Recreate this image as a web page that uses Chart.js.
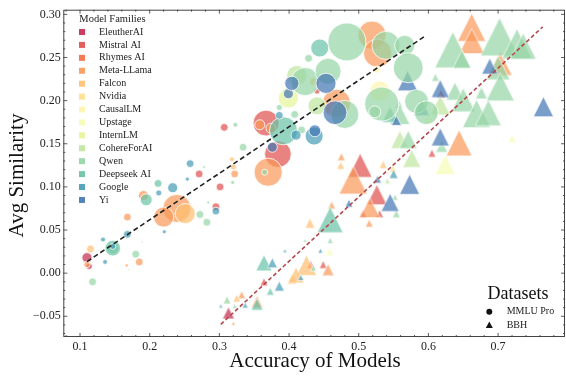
<!DOCTYPE html>
<html><head><meta charset="utf-8">
<script src="https://cdn.jsdelivr.net/npm/chart.js@4.4.1/dist/chart.umd.min.js"></script>
<style>html,body{margin:0;padding:0;background:#fff;}canvas{display:block;}</style>
</head><body>
<canvas id="c" width="566" height="376"></canvas>
<script>
// ---------------- DATA ----------------
const families = ["EleutherAI","Mistral AI","Rhymes AI","Meta-LLama","Falcon","Nvidia","CausalLM","Upstage","InternLM","CohereForAI","Qwen","Deepseek AI","Google","Yi"];
const datasetNames = ["MMLU Pro","BBH"];
const xTicks = [0.1,0.2,0.3,0.4,0.5,0.6,0.7];
const yTicks = [-0.05,0.00,0.05,0.10,0.15,0.20,0.25,0.30];

// MMLU Pro (circles): accuracy, avg similarity, model size (B params), family index
const mmluAcc = [0.110,0.113,0.115,0.118,0.110,0.133,0.136,0.147,0.147,0.147,0.168,0.168,0.180,0.185,0.167,0.170,0.189,0.195,0.191,0.213,0.212,0.233,0.258,0.254,0.278,0.271,0.301,0.239,0.220,0.251,0.221,0.272,0.282,0.284,0.295,0.295,0.318,0.320,0.322,0.319,0.370,0.365,0.384,0.307,0.323,0.334,0.367,0.358,0.374,0.386,0.408,0.392,0.410,0.418,0.436,0.376,0.399,0.399,0.386,0.411,0.404,0.423,0.456,0.453,0.444,0.428,0.483,0.519,0.527,0.539,0.566,0.571,0.526,0.435,0.440,0.440,0.468,0.466,0.480,0.437,0.533,0.523,0.530,0.583,0.597];
const mmluSim = [0.018,0.008,0.028,-0.010,0.010,0.039,0.013,0.029,0.029,0.031,0.045,0.065,0.022,0.013,0.009,0.004,0.036,0.085,0.090,0.093,0.104,0.099,0.127,0.109,0.123,0.115,0.100,0.075,0.065,0.069,0.048,0.068,0.059,0.082,0.072,0.077,0.132,0.123,0.115,0.105,0.117,0.117,0.138,0.169,0.172,0.146,0.174,0.172,0.168,0.183,0.184,0.165,0.160,0.166,0.159,0.146,0.203,0.208,0.192,0.229,0.220,0.222,0.234,0.220,0.261,0.249,0.268,0.276,0.255,0.264,0.264,0.238,0.236,0.222,0.211,0.194,0.197,0.186,0.184,0.165,0.196,0.187,0.211,0.199,0.186];
const mmluSize = [5,2,3,3,2,1.2,1.2,12,6,1.8,3,3,3,3,0.5,0.2,0.2,7,5,1.8,3,5,3,0.8,0.4,3,3,39,20,20,0.8,3,3,0.4,3,3,1.2,1.8,3,0.8,39,1.8,35,3,1.2,3,33,5,5,3,3,39,5,3,16,5,20,5,1.8,20,10,39,33,20,16,3,71,39,39,39,20,44,2.5,3,1.8,16,39,28,39,7,57,7,20,28,28];
const mmluFam = [0,0,4,10,3,12,12,11,10,12,12,3,10,3,3,9,10,11,3,12,11,12,12,12,10,1,1,3,3,4,12,10,10,10,12,1,4,4,3,10,3,10,1,1,10,10,1,3,3,12,10,11,12,10,12,13,8,13,10,9,13,10,10,13,11,10,10,3,3,10,10,10,6,4,1,9,3,13,10,13,10,10,6,10,10];

// BBH (triangles)
const bbhAcc = [0.662,0.662,0.702,0.727,0.736,0.635,0.648,0.688,0.703,0.700,0.703,0.570,0.610,0.617,0.618,0.638,0.650,0.676,0.617,0.545,0.558,0.559,0.590,0.554,0.669,0.686,0.765,0.600,0.559,0.571,0.617,0.619,0.644,0.576,0.605,0.624,0.720,0.475,0.474,0.502,0.492,0.535,0.549,0.550,0.527,0.541,0.573,0.526,0.516,0.545,0.552,0.530,0.506,0.486,0.554,0.515,0.459,0.461,0.430,0.459,0.458,0.445,0.425,0.431,0.449,0.456,0.435,0.417,0.311,0.364,0.376,0.364,0.386,0.404,0.373,0.325,0.332,0.354,0.354,0.313,0.302,0.322,0.337,0.320,0.394,0.423,0.410];
const bbhSim = [0.285,0.269,0.274,0.266,0.263,0.259,0.248,0.240,0.243,0.238,0.216,0.223,0.227,0.214,0.208,0.211,0.201,0.209,0.195,0.184,0.196,0.184,0.192,0.177,0.185,0.186,0.193,0.179,0.155,0.155,0.158,0.147,0.151,0.133,0.139,0.126,0.156,0.135,0.125,0.125,0.108,0.126,0.121,0.115,0.109,0.107,0.103,0.091,0.076,0.082,0.088,0.069,0.069,0.081,0.069,0.058,0.062,0.079,0.058,0.038,0.025,0.026,0.009,0.010,0.010,0.004,0.006,-0.005,-0.031,0.012,0.012,-0.010,-0.015,-0.007,-0.021,-0.029,-0.025,-0.036,-0.033,-0.046,-0.038,-0.038,-0.037,-0.058,0.026,0.038,-0.002];
const bbhSize = [39,31,71,44,33,64,16,12.6,28,28,39,20,3,16,4,16,28,7,20,12.6,3,20,12.6,5,39,33,20,5,16,16,16,7,33,16,3,20,3,3,3,28,39,3,3,4,3,1.8,20,20,20,16,1.8,3,3,3,3,3,33,3,5,1.8,3,1.2,20,3,3,7,1.8,1.8,3,12.6,5,3,5,5,3,3,3,7,7,7,0.8,1.2,1.8,0.8,0.8,0.8,12.6];
const bbhFam = [3,3,10,10,10,10,10,13,3,10,10,13,10,13,1,10,10,10,9,11,10,10,12,13,10,10,13,7,9,10,13,10,3,9,1,7,7,3,4,1,3,4,5,12,13,9,13,1,3,13,10,1,1,13,10,3,11,3,4,10,7,12,4,1,1,3,10,12,10,11,12,1,12,4,11,4,3,11,3,0,12,10,12,3,12,10,4];

// Regression lines (end points)
const mmluFitX = [0.110, 0.595], mmluFitY = [0.0134, 0.2747];
const bbhFitX = [0.302, 0.764], bbhFitY = [-0.0593, 0.2855];

// ---------------- STYLE ----------------
const FONT = "'Liberation Serif','Times New Roman',serif";
const spectral = [[158,1,66],[213,62,79],[244,109,67],[253,174,97],[254,224,139],[255,255,191],[230,245,152],[171,221,164],[102,194,165],[50,136,189],[94,79,162]];
function spec(t){const s=t*10,i=Math.min(9,Math.floor(s)),f=s-i;return spectral[i].map((v,k)=>Math.round(v+(spectral[i+1][k]-v)*f));}
const famRGB = families.map((_,i)=>spec((i+1)/15));
const rgba=(c,a)=>`rgba(${c[0]},${c[1]},${c[2]},${a})`;
const ALPHA=0.7;
const radiusOf = p => 2.25*Math.sqrt(p);

function build(acc,sim,size,fam){
  const pts = acc.map((x,i)=>({x, y:sim[i], p:size[i], f:fam[i]}));
  pts.sort((a,b)=>a.f-b.f);
  return pts;
}
const triCache = {};
function triCanvas(hw,f){
  const key=hw.toFixed(2)+'_'+f;
  if(triCache[key]) return triCache[key];
  const w=Math.ceil(2*hw+2), c=document.createElement('canvas');
  c.width=w;c.height=w;
  const g=c.getContext('2d'), m=w/2;
  g.beginPath();g.moveTo(m,m-hw);g.lineTo(m-hw,m+hw);g.lineTo(m+hw,m+hw);g.closePath();
  g.fillStyle=rgba(famRGB[f],ALPHA);g.fill();
  g.strokeStyle='rgba(255,255,255,0.8)';g.lineWidth=0.8;g.stroke();
  triCache[key]=c;return c;
}

const decor = {
  id:'decor',
  afterDraw(chart){
    const ctx=chart.ctx, a=chart.chartArea, xs=chart.scales.x, ys=chart.scales.y;
    ctx.save();
    // spines
    ctx.strokeStyle='#444';ctx.lineWidth=1;
    ctx.strokeRect(a.left+0.5,a.top+0.5,a.right-a.left-1,a.bottom-a.top-1);
    // inward ticks
    ctx.lineWidth=0.8;ctx.strokeStyle='#333';
    ctx.beginPath();
    for(let k=4;k<=39;k++){const v=k*0.02, px=xs.getPixelForValue(v);const maj=(k%5===0);const L=maj?4:2;
      ctx.moveTo(px,a.bottom);ctx.lineTo(px,a.bottom-L);ctx.moveTo(px,a.top);ctx.lineTo(px,a.top+L);}
    for(let k=-7;k<=30;k++){const v=k*0.01, py=ys.getPixelForValue(v);const maj=(k%5===0);const L=maj?4:2;
      ctx.moveTo(a.left,py);ctx.lineTo(a.left+L,py);ctx.moveTo(a.right,py);ctx.lineTo(a.right-L,py);}
    ctx.stroke();
    // axis titles
    ctx.fillStyle='#111';
    ctx.font=`21px ${FONT}`;ctx.textAlign='center';ctx.textBaseline='middle';
    ctx.fillText('Accuracy of Models',315,361);
    ctx.save();ctx.translate(17,175.5);ctx.rotate(-Math.PI/2);ctx.fillText('Avg Similarity',0,0);ctx.restore();
    // Model families legend
    ctx.textAlign='left';ctx.font=`10.5px ${FONT}`;ctx.fillStyle='#222';
    ctx.fillText('Model Families',79.3,19);
    ctx.font=`10px ${FONT}`;
    families.forEach((n,i)=>{const y=32+i*12.92;
      ctx.fillStyle=rgba(famRGB[i],0.9);ctx.fillRect(79,y-3,6,6);
      ctx.fillStyle='#222';ctx.fillText(n,99,y);});
    // Datasets legend
    ctx.textAlign='center';ctx.font=`18px ${FONT}`;ctx.fillStyle='#111';
    ctx.fillText('Datasets',518,294);
    ctx.textAlign='left';ctx.font=`10px ${FONT}`;
    ctx.fillStyle='#111';
    ctx.beginPath();ctx.arc(489.3,311.7,3,0,Math.PI*2);ctx.fill();
    ctx.beginPath();ctx.moveTo(489.3,321.5);ctx.lineTo(485.8,328);ctx.lineTo(492.8,328);ctx.closePath();ctx.fill();
    ctx.fillStyle='#222';
    ctx.fillText(datasetNames[0],506.7,311.7);
    ctx.fillText(datasetNames[1],506.7,325);
    ctx.restore();
  }
};

const tickFont={family:FONT,size:12};
new Chart(document.getElementById('c'),{
  type:'scatter',
  data:{datasets:[
    {type:'line',label:'fit MMLU',data:mmluFitX.map((x,i)=>({x,y:mmluFitY[i]})),borderColor:'#222',borderWidth:1.6,borderDash:[5,3],pointRadius:0,showLine:true,fill:false,order:0},
    {type:'line',label:'fit BBH',data:bbhFitX.map((x,i)=>({x,y:bbhFitY[i]})),borderColor:'#b5474b',borderWidth:1.6,borderDash:[4,2.5],pointRadius:0,showLine:true,fill:false,order:0},
    {label:'MMLU Pro',data:build(mmluAcc,mmluSim,mmluSize,mmluFam),order:1,clip:false,
      pointStyle:'circle',
      pointRadius:c=>c.raw?radiusOf(c.raw.p):3,
      backgroundColor:c=>c.raw?rgba(famRGB[c.raw.f],ALPHA):'#000',
      borderColor:'rgba(255,255,255,0.8)',borderWidth:1},
    {label:'BBH',data:build(bbhAcc,bbhSim,bbhSize,bbhFam),order:1,clip:false,
      pointStyle:c=>c.raw?triCanvas(radiusOf(c.raw.p),c.raw.f):'triangle',
      pointRadius:c=>c.raw?radiusOf(c.raw.p):3,
      backgroundColor:c=>c.raw?rgba(famRGB[c.raw.f],ALPHA):'#000',
      borderColor:'rgba(255,255,255,0.8)',borderWidth:1}
  ]},
  options:{
    responsive:false,animation:false,
    layout:{autoPadding:false,padding:{top:6,right:1,left:0,bottom:0}},
    plugins:{legend:{display:false},tooltip:{enabled:false}},
    scales:{
      x:{type:'linear',min:0.076,max:0.796,
        grid:{display:false,drawTicks:false},border:{display:false},
        ticks:{font:tickFont,color:'#222',padding:3,maxRotation:0,autoSkip:false,callback:v=>v.toFixed(1)},
        afterBuildTicks:s=>{s.ticks=xTicks.map(v=>({value:v}));},
        afterFit:s=>{s.height=39;}},
      y:{type:'linear',min:-0.074,max:0.3054,
        grid:{display:false,drawTicks:false},border:{display:false},
        ticks:{font:tickFont,color:'#222',padding:2.5,autoSkip:false,callback:v=>(v<-1e-9?'\u2212':'')+Math.abs(v).toFixed(2)},
        afterBuildTicks:s=>{s.ticks=yTicks.map(v=>({value:v}));},
        afterFit:s=>{s.width=63.3;}}
    }
  },
  plugins:[decor]
});
</script>
</body></html>
